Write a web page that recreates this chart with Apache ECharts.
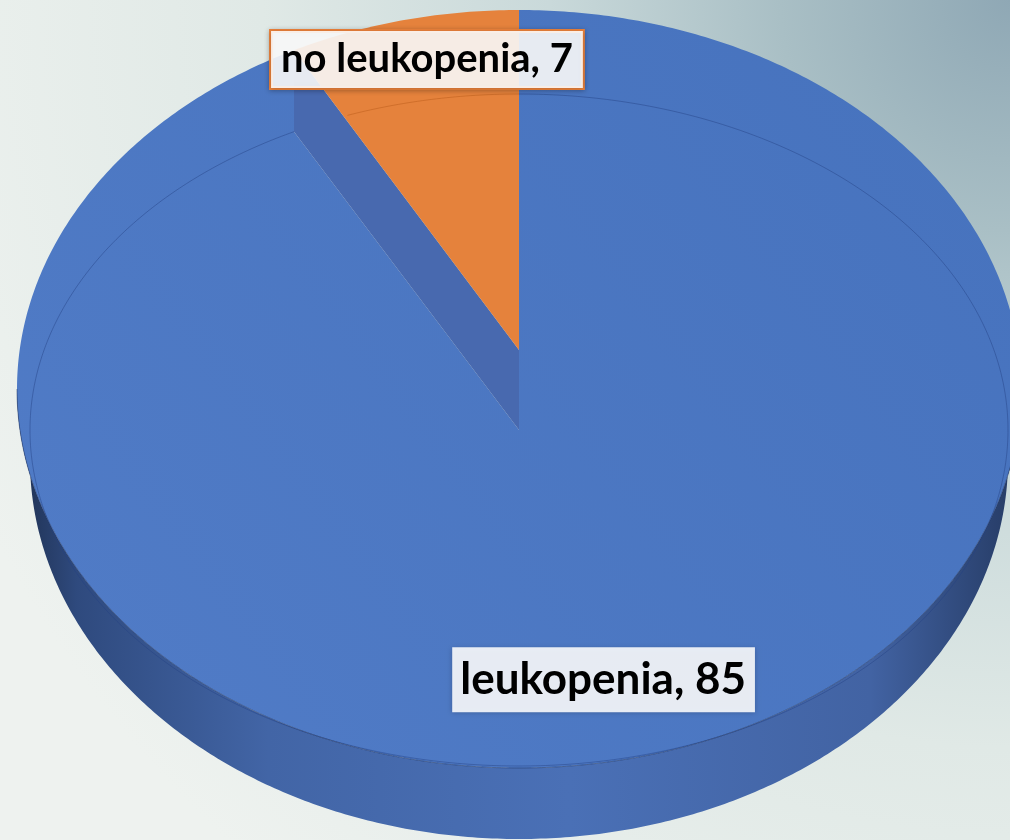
<!DOCTYPE html>
<html lang="en">
<head>
<meta charset="UTF-8">
<title>leukopenia</title>
<style>
  html, body { margin: 0; padding: 0; }
  #main { width: 1010px; height: 840px; }
</style>
</head>
<body>
<div id="main"></div>
<script src="https://cdn.jsdelivr.net/npm/echarts@6/dist/echarts.min.js"></script>
<script>
var categories = ['leukopenia', 'no leukopenia'];
var values = [85, 7];
var pulledSlice = 'no leukopenia';

var colors = ['#4e79c4', '#e5823c'];
var total = values.reduce(function (a, b) { return a + b; }, 0);

// geometry of the tilted pie (px)
var cx = 519, cy = 430;                  // centre of top face
var rxIn = 489, ryIn = 336;              // top face
var oy = 389, rxOut = 502, ryOut = 379;  // outer rim of top face
var depth = 71;                          // side wall
var lift = 80;                           // pulled slice
var TAU = Math.PI * 2;

function innerPt(a, c) {
    return [c[0] + rxIn * Math.sin(a), c[1] - ryIn * Math.cos(a)];
}
function outerPt(p, dy, rx) {
    return [cx + (rx || rxOut) * Math.sin(p), oy + (dy || 0) - ryOut * Math.cos(p)];
}
// angle on the rim that sits right above innerPt(a)
function phiOf(a) {
    var s = Math.asin(rxIn / rxOut * Math.sin(a));
    if (Math.cos(a) < 0) return Math.PI - s;
    return a > Math.PI ? s + TAU : s;
}
function arc(p0, p1, dy, rx) {
    var pts = [], n = Math.max(2, Math.ceil(Math.abs(p1 - p0) / 0.01));
    for (var k = 0; k <= n; k++) pts.push(outerPt(p0 + (p1 - p0) * k / n, dy, rx));
    return pts;
}
function innerArc(a0, a1, c) {
    var pts = [], n = Math.max(2, Math.ceil(Math.abs(a1 - a0) / 0.01));
    for (var k = 0; k <= n; k++) pts.push(innerPt(a0 + (a1 - a0) * k / n, c));
    return pts;
}

function renderItem(params, api) {
    var i = params.dataIndex;
    var start = 0;
    for (var k = 0; k < i; k++) start += values[k];
    var a0 = start / total * TAU;
    var a1 = (start + api.value(0)) / total * TAU;
    var C = [cx, cy];
    var pulled = categories[i] === pulledSlice;
    var apex = pulled ? [cx, cy - lift] : C;
    var kids = [];

    // side wall, front half only
    var w0 = Math.max(a0, Math.PI / 2), w1 = Math.min(a1, Math.PI * 1.5);
    if (w1 > w0) {
        var top = arc(w0, w1, 0);
        var bottom = arc(w1, w0, depth, rxIn);
        kids.push({
            type: 'polygon',
            shape: { points: top.concat(bottom) },
            style: {
                fill: {
                    type: 'linear', x: cx - rxOut, y: 0, x2: cx + rxOut, y2: 0, global: true,
                    colorStops: [
                        { offset: 0, color: '#1f3152' },
                        { offset: 0.06, color: '#2f4a7e' },
                        { offset: 0.25, color: '#4265a6' },
                        { offset: 0.55, color: '#4a70b6' },
                        { offset: 0.85, color: '#4263a3' },
                        { offset: 1, color: '#253a63' }
                    ]
                }
            }
        });
    }

    // cut wall left open by the pulled slice
    if (pulled) {
        kids.push({
            type: 'polygon',
            shape: { points: [apex, outerPt(phiOf(a0)), innerPt(a0, C), C] },
            style: { fill: '#4869af' }
        });
    }

    // top face
    var face = [apex].concat(arc(phiOf(a0), phiOf(a1), 0));
    if (!pulled) face.push(innerPt(a1, C));
    kids.push({
        type: 'polygon',
        shape: { points: face },
        style: {
            fill: i === 0 ? {
                type: 'linear', x: 1, y: 0, x2: 0, y2: 1,
                colorStops: [{ offset: 0, color: '#4672bd' }, { offset: 1, color: '#517cc7' }]
            } : colors[i % colors.length]
        }
    });

    // rim edge of the top face
    var rimLine = innerArc(a0, a1, C);
    if (pulled) {
        // keep the part right of the slice's left edge
        var e = outerPt(phiOf(a0));
        rimLine = rimLine.filter(function (p) {
            var t = (p[1] - apex[1]) / (e[1] - apex[1]);
            return p[0] >= apex[0] + (e[0] - apex[0]) * t + 2;
        });
    }
    kids.push({
        type: 'polyline',
        shape: { points: rimLine },
        style: {
            fill: null,
            stroke: pulled ? 'rgba(190,95,30,0.55)' : 'rgba(35,65,130,0.45)',
            lineWidth: 1
        }
    });
    if (w1 > w0) {
        kids.push({
            type: 'polyline',
            shape: { points: arc(w0, w1, 0) },
            style: { fill: null, stroke: 'rgba(30,50,95,0.5)', lineWidth: 1 }
        });
    }

    // data label
    var mid = (a0 + a1) / 2;
    var f = pulled ? 0.89 : 0.765;
    var lp = [apex[0] + rxIn * Math.sin(mid) * f + (pulled ? 11 : -4),
              apex[1] - ryIn * Math.cos(mid) * f];
    kids.push({
        type: 'text',
        z2: 10,
        style: {
            text: categories[i] + ', ' + api.value(0),
            x: lp[0], y: lp[1],
            align: 'center', verticalAlign: 'middle',
            font: pulled ? 'bold 40px Lato' : 'bold 44px Lato',
            lineHeight: pulled ? 45 : 49,
            fill: '#000',
            backgroundColor: 'rgba(255,255,255,0.88)',
            borderColor: pulled ? '#e8803a' : 'rgba(0,0,0,0)',
            borderWidth: pulled ? 2 : 0,
            padding: pulled ? [6, 10, 6, 10] : [8, 9, 8, 8],
            shadowBlur: 5,
            shadowColor: 'rgba(0,0,0,0.25)',
            shadowOffsetY: 1
        }
    });

    return { type: 'group', children: kids };
}

var option = {
    backgroundColor: {
        type: 'radial', x: 1010, y: 0, r: 1150, global: true,
        colorStops: [
            { offset: 0, color: '#8fa8b5' },
            { offset: 0.2, color: '#a9bfc5' },
            { offset: 0.4, color: '#c9d9da' },
            { offset: 0.65, color: '#e0e9e6' },
            { offset: 1, color: '#eef2ef' }
        ]
    },
    animation: false,
    series: [{
        type: 'custom',
        coordinateSystem: 'none',
        renderItem: renderItem,
        data: values
    }]
};

var myChart = echarts.init(document.getElementById('main'));
myChart.setOption(option);
</script>
</body>
</html>
